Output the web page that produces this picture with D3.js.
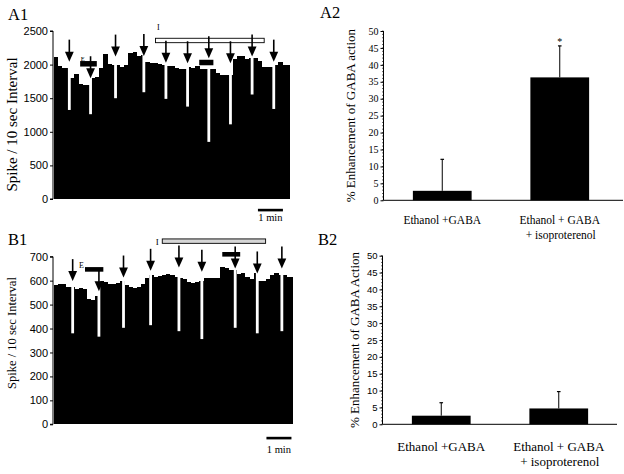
<!DOCTYPE html>
<html><head><meta charset="utf-8">
<script src="https://cdn.jsdelivr.net/npm/d3@7"></script>
<style>body{margin:0;background:#fff} svg{display:block}</style>
</head><body>
<svg id="c" width="624" height="474"></svg>
<script>
// ---------- DATA ----------
// A1: spikes per 10 s bin
const a1Values = [2110,1980,1955,1950,1807,1860,1713,1700,1693,1797,1812,1945,2158,2010,2000,1995,1970,1990,2168,2193,2129,2140,2040,2030,2020,2010,2000,1985,1980,1950,1930,1940,1960,1950,1980,1940,1940,1930,1930,1880,1850,1845,1850,2090,2134,2130,2090,2095,2093,2054,1969,1960,1970,2000,2040,2000,1990];
const a1DipTimes = [3.8,8.9,14.9,21.7,27.0,32.2,37.3,42.5,47.7,52.9];
const a1DipValues = [1325,1262,1500,1589,1490,1375,850,1111,1555,1340];
const a1ArrowTips = [2044,1797,2119,2128,2029,2020,2094,2020,2119,2044];
const a1EBars = [[6.4,10.4,2012],[35.0,38.4,2031]];
const a1IBar = [24.5,50.6,2359];
const a1Ticks = [0,500,1000,1500,2000,2500];

// B1
const b1Values = [581,585,588,575,574,567,570,567,523,521,535,599,595,588,585,592,599,581,572,570,574,588,610,623,616,619,625,627,622,616,612,605,595,591,596,600,613,609,611,613,658,651,646,644,627,630,615,605,630,599,599,605,623,633,623,623,616,616];
const b1DipTimes = [4.6,10.9,16.8,23.3,30.1,35.6,43.6,48.9,54.8];
const b1DipValues = [380,366,403,414,389,356,403,380,389];
const b1ArrowTips = [598,556,613,641,655,637,651,630,651];
const b1EBars = [[7.56,11.96,647],[40.5,44.8,710]];
const b1IBar = [26.1,50.9,765];
const b1Ticks = [0,100,200,300,400,500,600,700];

// A2 / B2
const categories = ["Ethanol +GABA", "Ethanol + GABA\n+ isoproterenol"];
const a2Means = [2.8, 36.3];
const a2Errors = [12.1, 45.6];
const a2Signif = ["", "*"];
const b2Means = [2.55, 4.7];
const b2Errors = [6.4, 9.7];
const b2Signif = ["", ""];
const barTicks = [0,5,10,15,20,25,30,35,40,45,50];

// ---------- DRAW ----------
const svg = d3.select("#c");
const SERIF = "'Liberation Serif','Times New Roman',serif";
const SANS = "'Liberation Sans',Arial,sans-serif";

function trace(o) {
  const g = svg.append("g");
  const x = d3.scaleLinear().domain([0, o.xMax]).range([o.x0, o.x1]);
  const y = d3.scaleLinear().domain([0, o.yMax]).range([o.yb, o.yt]);
  g.selectAll("rect.bin").data(o.values).join("rect")
    .attr("x", (d,i) => x(i))
    .attr("width", (d,i) => x(Math.min(i+1, o.xMax)) - x(i) + 0.3)
    .attr("y", d => y(d)).attr("height", d => y(0) - y(d))
    .attr("fill", "#000").attr("shape-rendering", "crispEdges");
  // dips (single-bin drops)
  g.selectAll("rect.dip").data(o.dipTimes).join("rect")
    .attr("x", d => x(d) - 1.4).attr("width", 2.8)
    .attr("y", o.yt - 2).attr("height", (d,i) => y(o.dipValues[i]) - o.yt + 2)
    .attr("fill", "#fff");
  // axis
  const ax = g.append("g").attr("transform", `translate(${o.x0 - 0.5},0)`)
    .call(d3.axisLeft(y).tickValues(o.ticks).tickSize(3).tickPadding(2).tickFormat(d3.format("d")));
  ax.select(".domain").attr("d", `M-3,${y(o.yMax)}H0V${y(0)}H-3`).attr("stroke-width", 1);
  ax.selectAll(".tick line").attr("stroke-width", 1);
  ax.selectAll("text").attr("font-family", SANS).attr("font-size", o.tickFont).attr("fill", "#000");
  // E bars
  o.eBars.forEach((e, i) => {
    g.append("rect").attr("x", x(e[0])).attr("width", x(e[1]) - x(e[0]))
      .attr("y", y(e[2]) - o.eThick/2).attr("height", o.eThick).attr("fill", "#000");
    if (i === 0) g.append("text").attr("x", x(e[0]) + o.eLabelDx).attr("y", y(e[2]) + o.eLabelDy)
      .attr("text-anchor", o.eAnchor).attr("font-family", SERIF).attr("font-size", o.eFont).text("E");
  });
  // I bar
  g.append("rect").attr("x", x(o.iBar[0])).attr("width", x(o.iBar[1]) - x(o.iBar[0]))
    .attr("y", y(o.iBar[2]) - 2.2).attr("height", 4.4)
    .attr("fill", o.iFill).attr("stroke", "#000").attr("stroke-width", 0.9);
  g.append("text").attr("x", x(o.iBar[0]) + o.iLabelDx).attr("y", y(o.iBar[2]) + o.iLabelDy)
    .attr("font-family", SERIF).attr("font-size", o.iFont).text("I");
  // arrows
  const ar = g.selectAll("g.arrow").data(o.dipTimes).join("g")
    .attr("transform", (d,i) => `translate(${x(d)},${y(o.arrowTips[i])})`);
  ar.append("line").attr("x1", 0).attr("x2", 0).attr("y1", -9).attr("y2", -22)
    .attr("stroke", "#000").attr("stroke-width", 1.6);
  ar.append("path").attr("d", "M0,0L-4.4,-10L4.4,-10Z").attr("fill", "#000");
  // scale bar 1 min = 6 bins
  g.append("rect").attr("x", x(o.scaleStart)).attr("width", x(o.scaleStart + 6) - x(o.scaleStart))
    .attr("y", o.scaleY).attr("height", 2.6).attr("fill", "#000");
  g.append("text").attr("x", (x(o.scaleStart) + x(o.scaleStart + 6)) / 2).attr("y", o.scaleY + o.scaleLabelDy)
    .attr("text-anchor", "middle").attr("font-family", SERIF).attr("font-size", 10.5).text("1 min");
  // y title
  g.append("text").attr("transform", `translate(${o.titleX},${o.titleY}) rotate(-90)`)
    .attr("text-anchor", "middle").attr("font-family", SERIF).attr("font-size", o.titleFont)
    .text("Spike / 10 sec Interval");
  // panel label
  g.append("text").attr("x", o.labX).attr("y", o.labY).attr("font-family", SERIF)
    .attr("font-size", 16.5).text(o.label);
}

function bars(o) {
  const g = svg.append("g");
  const y = d3.scaleLinear().domain([0, 50]).range([o.yb, o.yt]);
  const x = d3.scaleBand().domain(categories).range([o.x0, o.x1]).paddingInner(0.5).paddingOuter(0.25);
  // minor ticks
  g.selectAll("line.minor").data(d3.range(0, 51, 1)).join("line")
    .attr("x1", o.x0 - 1.5).attr("x2", o.x0).attr("y1", d => y(d)).attr("y2", d => y(d))
    .attr("stroke", "#000").attr("stroke-width", 0.6);
  const ax = g.append("g").attr("transform", `translate(${o.x0},0)`)
    .call(d3.axisLeft(y).tickValues(barTicks).tickSize(3).tickPadding(2));
  ax.select(".domain").attr("d", `M0,${y(50)}V${y(0)}`).attr("stroke-width", 1);
  ax.selectAll("text").attr("font-family", o.tickFamily).attr("font-size", o.tickFont).attr("fill", "#000");
  // x axis line
  g.append("line").attr("x1", o.x0).attr("x2", o.xAxisEnd).attr("y1", y(0)).attr("y2", y(0))
    .attr("stroke", "#000").attr("stroke-width", 1);
  // bars
  g.selectAll("rect.bar").data(categories).join("rect")
    .attr("x", d => x(d)).attr("width", x.bandwidth())
    .attr("y", (d,i) => y(o.means[i])).attr("height", (d,i) => y(0) - y(o.means[i]))
    .attr("fill", "#000");
  // error bars
  categories.forEach((c, i) => {
    const cx = x(c) + x.bandwidth() / 2;
    g.append("line").attr("x1", cx).attr("x2", cx).attr("y1", y(o.means[i])).attr("y2", y(o.errors[i]))
      .attr("stroke", "#000").attr("stroke-width", 1);
    g.append("line").attr("x1", cx - 1.8).attr("x2", cx + 1.8).attr("y1", y(o.errors[i])).attr("y2", y(o.errors[i]))
      .attr("stroke", "#000").attr("stroke-width", 1.2);
    if (o.signif[i]) g.append("text").attr("x", cx).attr("y", y(o.errors[i]) - 1)
      .attr("text-anchor", "middle").attr("font-family", SERIF).attr("font-size", 10).text(o.signif[i]);
    c.split("\n").forEach((line, k) => {
      g.append("text").attr("x", cx + (k === 0 ? 0 : 1)).attr("y", o.catY + k * o.catLine)
        .attr("text-anchor", "middle").attr("font-family", SERIF).attr("font-size", o.catFont).text(line);
    });
  });
  g.append("text").attr("transform", `translate(${o.titleX},${(o.yb + o.yt) / 2}) rotate(-90)`)
    .attr("text-anchor", "middle").attr("font-family", SERIF).attr("font-size", 13).text(o.title);
  g.append("text").attr("x", o.labX).attr("y", o.labY).attr("font-family", SERIF)
    .attr("font-size", 16.5).text(o.label);
}

trace({values: a1Values, dipTimes: a1DipTimes, dipValues: a1DipValues, arrowTips: a1ArrowTips,
  eBars: a1EBars, iBar: a1IBar, ticks: a1Ticks, xMax: 56.8, yMax: 2500,
  x0: 53.5, x1: 290, yb: 199, yt: 31, tickFont: 11,
  eThick: 5.5, eFont: 6.5, eLabelDx: 0.5, eLabelDy: -2.5, eAnchor: "start",
  iFill: "#fff", iFont: 8, iLabelDx: 1.5, iLabelDy: -10,
  scaleStart: 49.1, scaleY: 208.8, scaleLabelDy: 12.5,
  titleX: 17, titleY: 124.5, titleFont: 15, label: "A1", labX: 8, labY: 20});

trace({values: b1Values, dipTimes: b1DipTimes, dipValues: b1DipValues, arrowTips: b1ArrowTips,
  eBars: b1EBars, iBar: b1IBar, ticks: b1Ticks, xMax: 57.4, yMax: 700,
  x0: 53.5, x1: 292.7, yb: 424.3, yt: 256.7, tickFont: 11,
  eThick: 4.6, eFont: 8, eLabelDx: -1, eLabelDy: -1, eAnchor: "end",
  iFill: "#d6d6d6", iFont: 9, iLabelDx: -6.5, iLabelDy: 3.5,
  scaleStart: 51.1, scaleY: 436.8, scaleLabelDy: 16,
  titleX: 16, titleY: 333, titleFont: 12.5, label: "B1", labX: 8, labY: 245});

bars({means: a2Means, errors: a2Errors, signif: a2Signif, x0: 383.5, x1: 618.5, xAxisEnd: 623,
  yb: 200.3, yt: 31, tickFamily: SERIF, tickFont: 10, catY: 223.5, catLine: 15, catFont: 11.5,
  titleX: 355, title: "% Enhancement of GABA action", label: "A2", labX: 320, labY: 18});

bars({means: b2Means, errors: b2Errors, signif: b2Signif, x0: 382.5, x1: 617.5, xAxisEnd: 617,
  yb: 424.3, yt: 255.7, tickFamily: SANS, tickFont: 9.5, catY: 451, catLine: 14.5, catFont: 13,
  titleX: 359, title: "% Enhancement of GABA Action", label: "B2", labX: 318, labY: 245});
</script>
</body></html>
